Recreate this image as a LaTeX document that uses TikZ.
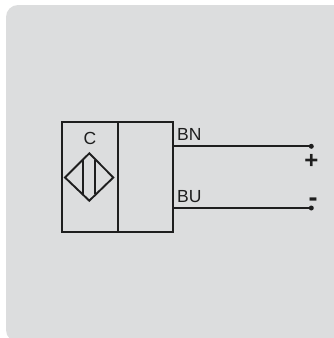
\documentclass[tikz,border=0pt]{standalone}
\usepackage{fontspec}
\setmainfont{Liberation Sans}
\definecolor{panel}{HTML}{DCDDDE}
\definecolor{ink}{HTML}{1E1E1E}
\tikzset{
  x=1pt,y=-1pt,
  symbol/.style={draw=ink,line width=1.9pt,line join=miter},
  wire/.style={draw=ink,line width=1.9pt},
  terminal/.style={circle,fill=ink,inner sep=0pt,minimum size=5pt},
  lbl/.style={inner sep=0pt,text=ink,font=\fontsize{17.5}{19}\selectfont},
}
\begin{document}
\begin{tikzpicture}
\useasboundingbox (0,0) rectangle (334,338);
\clip (0,0) rectangle (334,338);
\fill[panel] (6,342) [rounded corners=12pt] -- (6,5) -- (346,5) -- (346,342) -- cycle;
\fill[panel] (6,17) rectangle (340,330);
\fill[panel] (18,330) rectangle (340,342);
\node[symbol,inner sep=0pt,outer sep=0pt,anchor=north west,minimum width=111pt,minimum height=110pt] (body) at (61.7,122.3) {};
\draw[symbol] (117.7,122.3) -- (117.7,232.3);
\draw[symbol] (89.3,153.3) -- (113.3,177.5) -- (89.3,200.7) -- (65,177.5) -- cycle;
\draw[symbol] (82.7,160) -- (82.7,194);
\draw[symbol] (95.3,160) -- (95.3,194);
\node[lbl] (c) at (90,138.5) {C};
\coordinate (bnstart) at (172.7,146.3);
\coordinate (bustart) at (172.7,208);
\node[terminal] (bndot) at (311.3,146.3) {};
\node[terminal] (budot) at (311.3,208) {};
\draw[wire] (bnstart) -- (bndot);
\draw[wire] (bustart) -- (budot);
\node[lbl,anchor=base west] (bn) at (177,140.5) {BN};
\node[lbl,anchor=base west] (bu) at (177,202) {BU};
\node[inner sep=0pt,text=ink,font=\bfseries\fontsize{24}{24}\selectfont] (plus) at (311.3,161.5) {+};
\node[inner sep=0pt,text=ink,font=\bfseries\fontsize{27}{27}\selectfont] (minus) at (313,202) {-};
\end{tikzpicture}
\end{document}
